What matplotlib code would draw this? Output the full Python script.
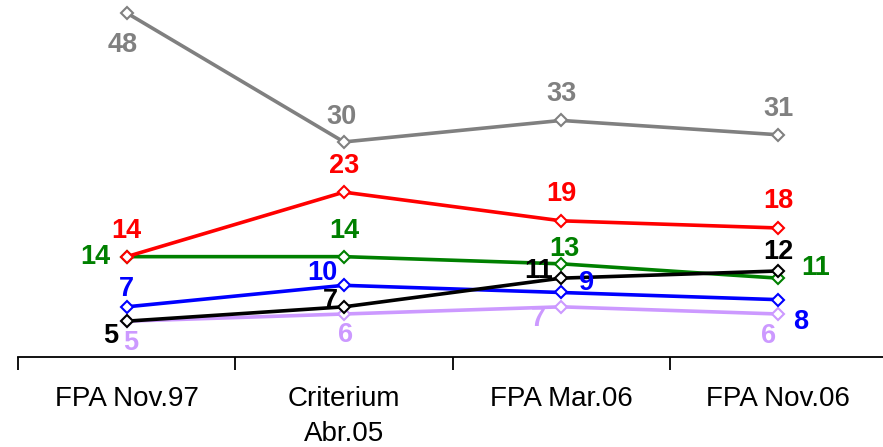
import matplotlib
matplotlib.use("Agg")
import matplotlib.pyplot as plt
from matplotlib.ticker import FixedLocator

plt.rcParams["font.family"] = ["Liberation Sans", "DejaVu Sans"]

categories = ["FPA Nov.97", "Criterium\nAbr.05", "FPA Mar.06", "FPA Nov.06"]
gray_vals = [48, 30, 33, 31]
red_vals = [14, 23, 19, 18]
green_vals = [14, 14, 13, 11]
blue_vals = [7, 10, 9, 8]
black_vals = [5, 7, 11, 12]
lilac_vals = [5, 6, 7, 6]

# label offsets in pixels (dx right, dy up) per point
series = [
    (gray_vals, "#808080", [(-4, -32), (-2, 25), (0, 26), (0, 26)]),
    (lilac_vals, "#cc99ff", [(4, -22), (2, -21), (-23, -12), (-10, -22)]),
    (blue_vals, "#0000ff", [(0, 18), (-22, 12), (25, 9), (22, -22)]),
    (green_vals, "#008000", [(-31, 0), (0, 26), (3, 15), (37, 10)]),
    (black_vals, "#000000", [(-16, -15), (-13, 6), (-23, 7), (0, 19)]),
    (red_vals, "#ff0000", [(0, 26), (0, 26), (0, 27), (0, 27)]),
]

fig = plt.figure(figsize=(8.83, 4.47), dpi=100)
ax = fig.add_axes([0.0204, 0.2013, 0.9842, 0.7987])
x = range(len(categories))
px = 72 / 100

for vals, col, offs in series:
    ax.plot(x, vals, color=col, lw=2.6, marker="D", ms=6.5, mfc="white",
            mec=col, mew=1.5, clip_on=False)
    for xi, v, (dx, dy) in zip(x, vals, offs):
        ax.annotate(str(v), (xi, v), xytext=(dx * px, dy * px), textcoords="offset points",
                    ha="center", va="center", fontsize=19.5, fontweight="bold", color=col)

ax.set_xlim(-0.5, 3.5)
ax.set_ylim(0, 49.8)
for s in ["top", "right", "left"]:
    ax.spines[s].set_visible(False)
ax.spines["bottom"].set_linewidth(1.3)
ax.set_yticks([])
ax.set_xticks(list(x))
ax.set_xticklabels(categories, fontsize=20, linespacing=1.45)
ax.tick_params(axis="x", which="major", length=0, pad=21)
ax.xaxis.set_minor_locator(FixedLocator([-0.5, 0.5, 1.5, 2.5]))
ax.tick_params(axis="x", which="minor", length=9, width=1.3, direction="out")

fig.savefig("out.png", dpi=100)
